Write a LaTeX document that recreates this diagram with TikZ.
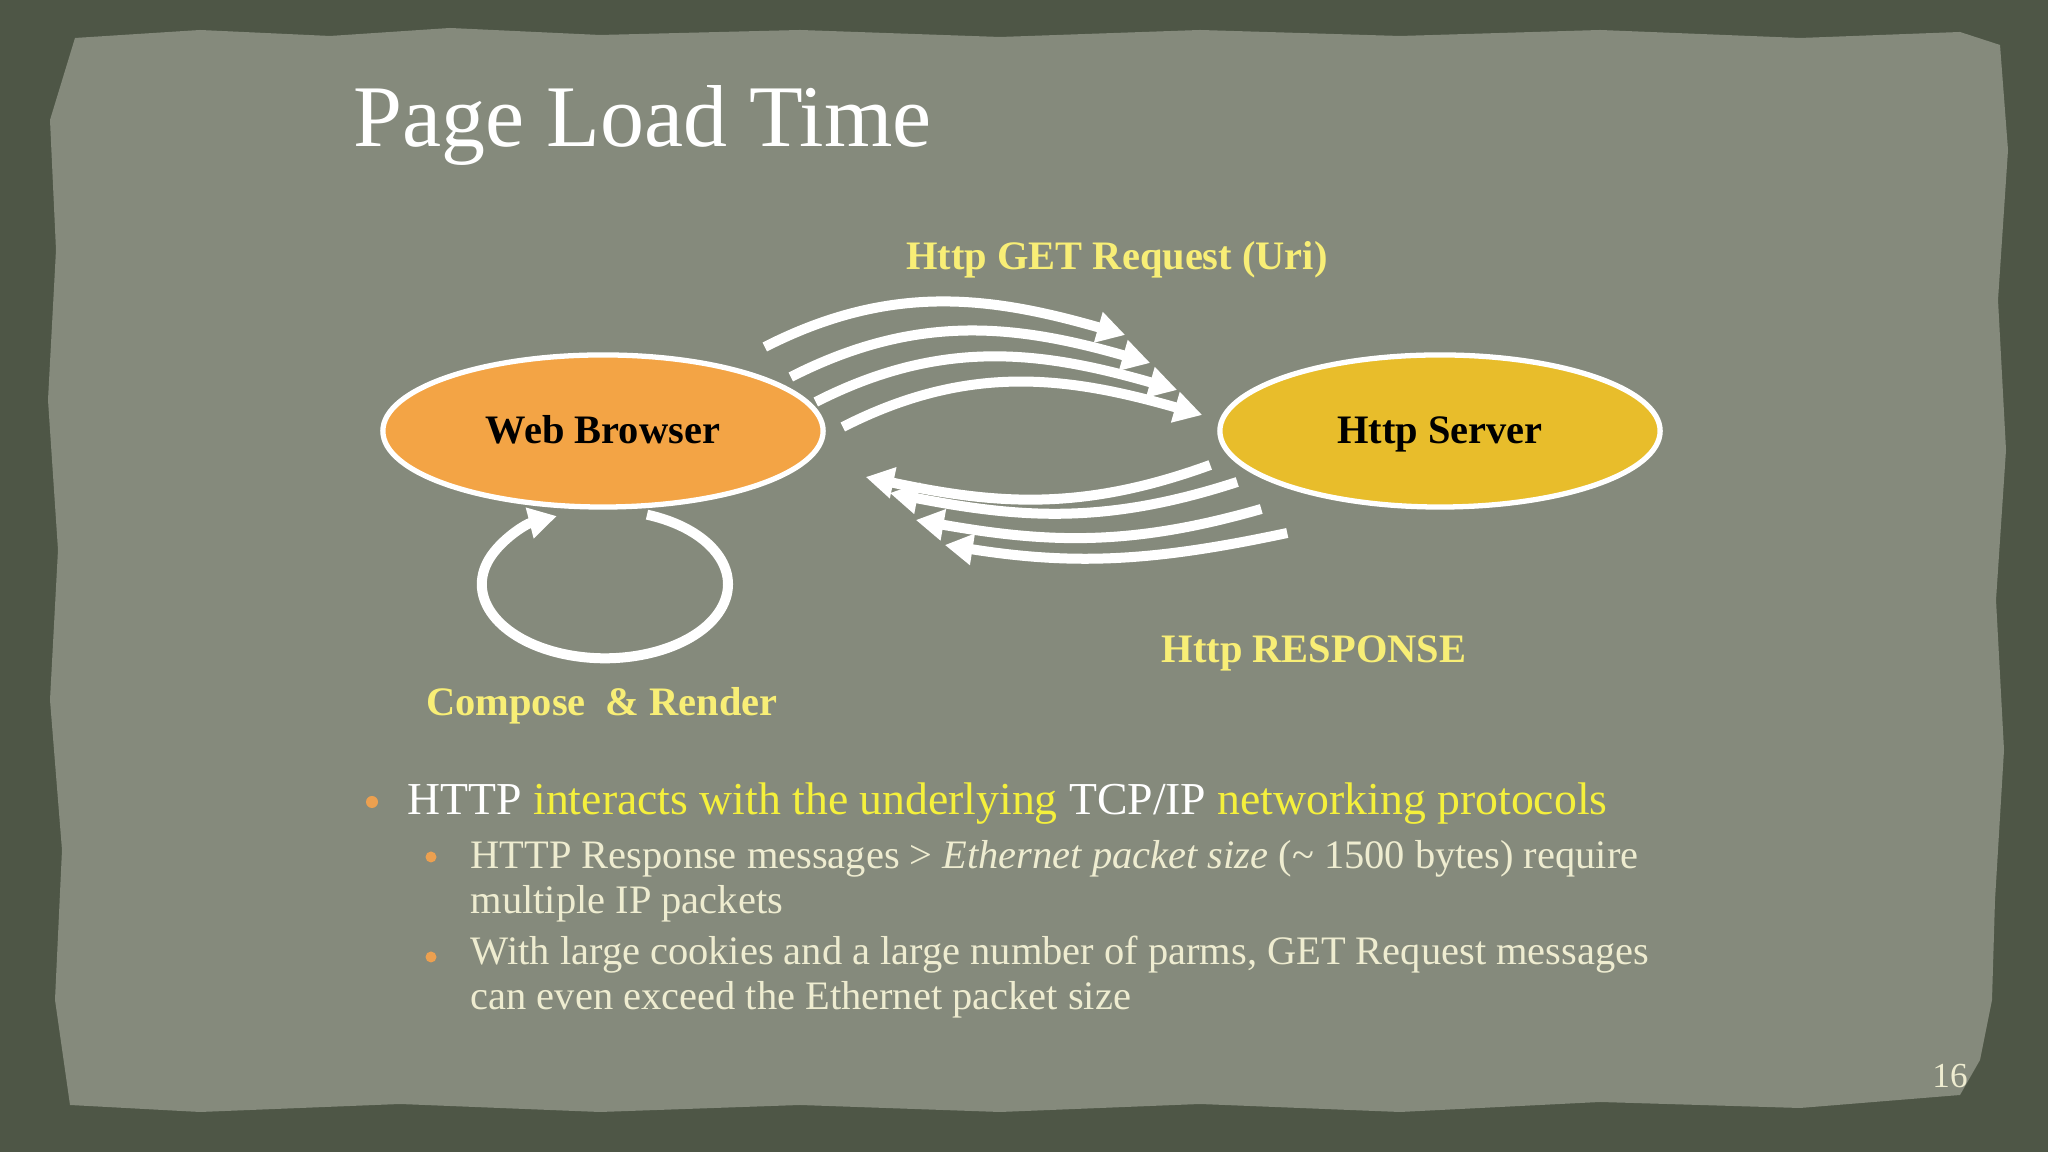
\documentclass[tikz,border=0pt]{standalone}
\usepackage{fontspec}
\setmainfont{Liberation Serif}
\usetikzlibrary{arrows.meta,positioning,shapes.geometric,calc}

\definecolor{paper}{RGB}{133,138,124}
\definecolor{frame}{RGB}{78,86,70}
\definecolor{browserfill}{RGB}{243,164,69}
\definecolor{serverfill}{RGB}{232,189,43}
\definecolor{lblyellow}{RGB}{248,238,118}
\definecolor{hiyellow}{RGB}{245,240,60}
\definecolor{cream}{RGB}{238,236,208}
\definecolor{dotorange}{RGB}{236,160,80}

\begin{document}
\begin{tikzpicture}[x=0.01cm, y=0.01cm,
		actor/.style={ellipse, draw=white, line width=1.5pt, minimum width=4.4cm, minimum height=1.52cm, inner sep=0pt, text height=0.9em, text depth=0.19em, font=\fontsize{11.5}{13}\selectfont\bfseries},
		flow/.style={white, line width=0.1cm, -{Triangle[length=0.28cm, width=0.3cm]}},
		lbl/.style={text=lblyellow, font=\fontsize{11.5}{13}\selectfont\bfseries, anchor=base, inner sep=0pt},
		dot/.style={circle, fill=dotorange, inner sep=0pt, minimum size=0.11cm},
		item/.style={anchor=base west, inner sep=0pt, align=left, text=cream, font=\fontsize{11.5}{13}\selectfont}]
		\useasboundingbox (0,0) rectangle (2048,1152);
		
		% Background
		\fill[frame] (0,0) rectangle (2048,1152);
		\begin{scope}[shift={(0,1152)}, yscale=-1]
			\fill[paper] (75,38) -- (200,30) -- (330,36) -- (450,28) -- (600,35) -- (800,30) -- (1000,37) -- (1200,30) -- (1400,36) -- (1600,30) -- (1800,38) -- (1960,32) -- (2000,45)
			-- (2008,150) -- (1998,300) -- (2006,450) -- (1996,600) -- (2004,750) -- (1995,900) -- (1992,1000) -- (1980,1060) -- (1960,1095)
			-- (1800,1108) -- (1600,1102) -- (1400,1112) -- (1200,1104) -- (1000,1112) -- (800,1105) -- (600,1112) -- (400,1104) -- (200,1112) -- (70,1105)
			-- (55,1000) -- (62,850) -- (50,700) -- (58,550) -- (48,400) -- (56,250) -- (50,120) -- cycle;
		\end{scope}
		
		\node[anchor=base west, inner sep=0pt, text=white, font=\fontsize{25}{30}\selectfont] (title) at (353,1005) {Page Load Time};
		
		\node[actor, fill=browserfill] (browser) at (603,721) {Web Browser};
		\node[actor, fill=serverfill] (server) at (1440,721) {Http Server};
		
		% Arrows
		\foreach \sx/\sy/\tx/\ty in {-61/84/-92/96, -35/54/-67/68, -10/29/-40/41, 17/4/-15/16}
		\draw[flow] ([shift={(\sx,\sy)}]browser.east) to[out=27, in=164] ([shift={(\tx,\ty)}]server.west);
		\foreach \sx/\sy/\tx/\ty/\o/\i in {-7/-34/40/-46/200/-12, 20/-51/64/-62/198/-11, 44/-78/90/-89/196/-10, 70/-102/119/-114/192/-9}
		\draw[flow] ([shift={(\sx,\sy)}]server.west) to[out=\o, in=\i] ([shift={(\tx,\ty)}]browser.east);
		\draw[flow] ([shift={(44,-5)}]browser.south) arc[start angle=70, end angle=-247, x radius=1.23cm, y radius=0.74cm];
		
		\node[lbl] (getlbl) at (1117,882) {Http GET Request (Uri)};
		\node[lbl] (resplbl) at (1314,489) {Http RESPONSE};
		\node[lbl] (looplbl) at (602,436) {Compose \ \& Render};
		
		% Bullets
		\node[dot, minimum size=0.12cm] (b1) at (372,350) {};
		\node[item, text=white, font=\fontsize{13}{15}\selectfont] (item1) at (407,337) {HTTP \textcolor{hiyellow}{interacts with the underlying} TCP/IP \textcolor{hiyellow}{networking protocols}};
		\node[dot] (b2) at (431,295) {};
		\node[item] (item2) at (470,238) {HTTP Response messages > \textit{Ethernet packet size} (\textasciitilde{} 1500 bytes) require\\multiple IP packets};
		\node[dot] (b3) at (431,195) {};
		\node[item] (item3) at (470,142) {With large cookies and a large number of parms, GET Request messages\\can even exceed the Ethernet packet size};
		
		\node[text=cream, font=\fontsize{10}{12}\selectfont, anchor=base, inner sep=0pt] (pagenum) at (1950,64) {16};
	\end{tikzpicture}
\end{document}
